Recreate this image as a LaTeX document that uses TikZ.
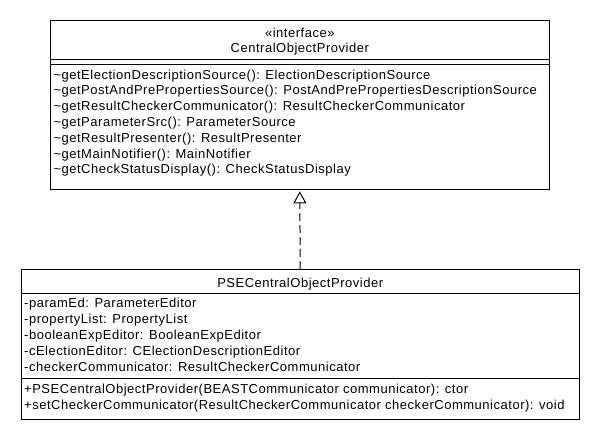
\documentclass[tikz,border=0pt]{standalone}
\usepackage{fontspec}
\setmainfont{Liberation Sans}
\newfontfamily\umlface[LetterSpace=4.0]{Liberation Sans}
\usepackage{tikz}
\usetikzlibrary{arrows.meta}
\newcommand{\umlfont}{\umlface\fontsize{13}{15.8}\selectfont}
\tikzset{
  umlbox/.style={draw, line width=1pt, inner sep=0pt},
  sepline/.style={draw, line width=1pt},
  memb/.style={anchor=base west, inner sep=0pt, font=\umlfont},
  ttl/.style={anchor=base, inner sep=0pt, font=\umlfont},
  realize/.style={draw, line width=1pt, dash pattern=on 8pt off 4pt,
    -{Triangle[open,length=12pt,width=13pt]}, shorten >=1.5pt}
}

\begin{document}
\begin{tikzpicture}[x=1pt,y=-1pt]
  \useasboundingbox (0,0) rectangle (600,440);

  % interface
  \node[umlbox, minimum width=499pt, minimum height=168.6pt] (cop) at (299.8,105) {};
  \draw[sepline] (cop.west |- 0,59.3) -- (cop.east |- 0,59.3);
  \draw[sepline] (cop.west |- 0,64) -- (cop.east |- 0,64);
  \node[ttl] (copst) at (299.8,37) {«interface»};
  \node[ttl] (copname) at (299.8,52) {CentralObjectProvider};
  \node[memb] (m1) at (53.3,79) {\textasciitilde getElectionDescriptionSource(): ElectionDescriptionSource};
  \node[memb] (m2) at (53.3,94.8) {\textasciitilde getPostAndPrePropertiesSource(): PostAndPrePropertiesDescriptionSource};
  \node[memb] (m3) at (53.3,110.6) {\textasciitilde getResultCheckerCommunicator(): ResultCheckerCommunicator};
  \node[memb] (m4) at (53.3,126.4) {\textasciitilde getParameterSrc(): ParameterSource};
  \node[memb] (m5) at (53.3,142.2) {\textasciitilde getResultPresenter(): ResultPresenter};
  \node[memb] (m6) at (53.3,158) {\textasciitilde getMainNotifier(): MainNotifier};
  \node[memb] (m7) at (53.3,173.8) {\textasciitilde getCheckStatusDisplay(): CheckStatusDisplay};

  % implementing class
  \node[umlbox, minimum width=558.3pt, minimum height=149.5pt] (pse) at (300.2,344.3) {};
  \draw[sepline] (pse.west |- 0,293.5) -- (pse.east |- 0,293.5);
  \draw[sepline] (pse.west |- 0,378) -- (pse.east |- 0,378);
  \node[ttl] (psename) at (300.2,287.5) {PSECentralObjectProvider};
  \node[memb] (a1) at (24,307.5) {-paramEd: ParameterEditor};
  \node[memb] (a2) at (24,323.5) {-propertyList: PropertyList};
  \node[memb] (a3) at (24,339.5) {-booleanExpEditor: BooleanExpEditor};
  \node[memb] (a4) at (24,355.5) {-cElectionEditor: CElectionDescriptionEditor};
  \node[memb] (a5) at (24,371.5) {-checkerCommunicator: ResultCheckerCommunicator};
  \node[memb] (o1) at (24,393.5) {+PSECentralObjectProvider(BEASTCommunicator communicator): ctor};
  \node[memb] (o2) at (24,409) {+setCheckerCommunicator(ResultCheckerCommunicator checkerCommunicator): void};

  \draw[realize] (pse.north) -- (cop.south);
\end{tikzpicture}
\end{document}
